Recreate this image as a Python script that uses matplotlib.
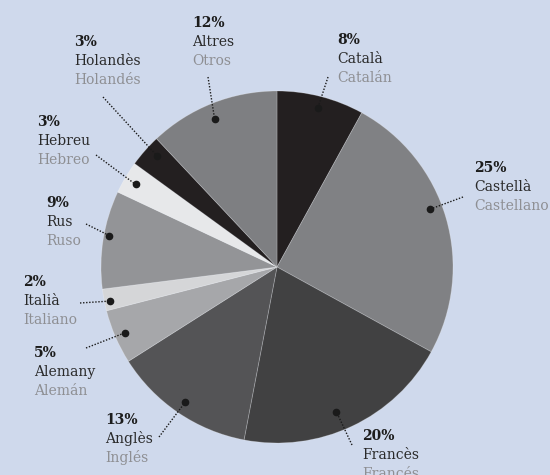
import numpy as np
import matplotlib
matplotlib.use("Agg")
import matplotlib.pyplot as plt

# data, clockwise from 12 o'clock
percents = [8, 25, 20, 13, 5, 2, 9, 3, 3, 12]
names_ca = ["Català", "Castellà", "Francès", "Anglès", "Alemany",
            "Italià", "Rus", "Hebreu", "Holandès", "Altres"]
names_es = ["Catalán", "Castellano", "Francés", "Inglés", "Alemán",
            "Italiano", "Ruso", "Hebreo", "Holandés", "Otros"]
colors = ["#231f20", "#808184", "#414142", "#545456", "#a6a7aa",
          "#d5d6d8", "#939497", "#e7e8ea", "#231f20", "#7e7f82"]

# layout (pixels): label left x / first baseline, leader start, dot placement in slice
label_xy = [(337, 44), (474, 172), (362, 440), (105, 424), (34, 357),
            (23, 286), (46, 207), (37, 126), (74, 46), (192, 27)]
leader_xy = [(328, 77), (463, 197), (352, 445), (159, 437), (86, 348),
             (80, 303), (86, 224), (96, 155), (103, 97), (208, 77)]
dot_frac = [0.5, 0.45, 0.54, 0.5, 0.5, 0.4, 0.55, 0.47, 0.63, 0.47]
dot_r = [0.93, 0.93, 0.89, 0.93, 0.94, 0.97, 0.97, 0.93, 0.93, 0.91]

W, H = 550, 475
cx, cy, R = 277, 267, 176
bg = "#cfd9ec"

fig = plt.figure(figsize=(W / 100, H / 100), dpi=100, facecolor=bg)
ax = fig.add_axes([0, 0, 1, 1])
ax.set_facecolor(bg)

# y axis is flipped below, so start at -90 and go "counterclock" to look clockwise
ax.pie(percents, colors=colors, startangle=-90, counterclock=True,
       center=(cx, cy), radius=R,
       wedgeprops=dict(edgecolor=(1, 1, 1, 0.25), linewidth=0.6))
ax.set_xlim(0, W)
ax.set_ylim(H, 0)
ax.set_aspect("equal")
ax.axis("off")

fam = ["DejaVu Serif"]
cum = np.cumsum([0] + percents[:-1])
for i in range(len(percents)):
    theta = np.deg2rad(360 * (cum[i] + dot_frac[i] * percents[i]) / 100)
    dx = cx + dot_r[i] * R * np.sin(theta)
    dy = cy - dot_r[i] * R * np.cos(theta)
    sx, sy = leader_xy[i]
    ax.plot([sx, dx], [sy, dy], color="#1a1a1a", lw=1, ls=(0, (1, 1.2)))
    ax.plot(dx, dy, "o", color="#1a1a1a", ms=4.5)

    lx, ly = label_xy[i]
    ax.text(lx, ly, f"{percents[i]}%", family=fam, fontsize=10,
            fontweight="bold", color="#1c1c1c", va="baseline")
    ax.text(lx, ly + 19, names_ca[i], family=fam, fontsize=10,
            color="#2a2a2a", va="baseline")
    ax.text(lx, ly + 38, names_es[i], family=fam, fontsize=10,
            color="#8e8f93", va="baseline")

fig.savefig("out.png", dpi=100, facecolor=bg)
